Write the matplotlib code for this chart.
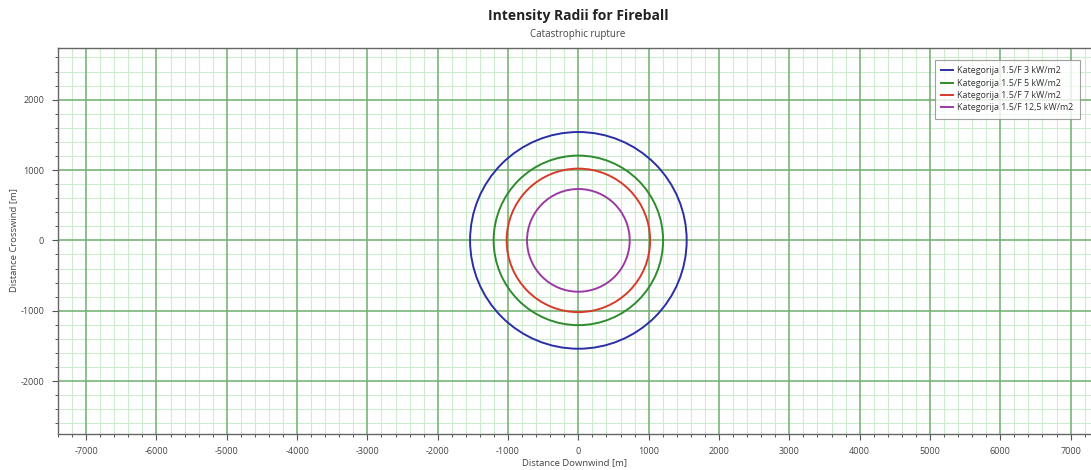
import matplotlib
matplotlib.use("Agg")
import matplotlib.pyplot as plt
from matplotlib.patches import Circle
from matplotlib.lines import Line2D
from matplotlib.ticker import MultipleLocator

# Data
series_labels = [
    "Kategorija 1.5/F 3 kW/m2",
    "Kategorija 1.5/F 5 kW/m2",
    "Kategorija 1.5/F 7 kW/m2",
    "Kategorija 1.5/F 12,5 kW/m2",
]
radii_m = [1540, 1205, 1020, 730]
colors = ["#2b2fa6", "#2e8b2e", "#d83a2a", "#9b3aa3"]
x_ticks = [-7000, -6000, -5000, -4000, -3000, -2000, -1000, 0, 1000, 2000, 3000, 4000, 5000, 6000, 7000]
y_ticks = [-2000, -1000, 0, 1000, 2000]

plt.rcParams['font.family'] = ['Open Sans', 'DejaVu Sans']

fig = plt.figure(figsize=(10.91, 4.70), dpi=100)
ax = fig.add_axes([58/1091, 1 - 433.5/470, 1 - 58/1091, (433.5 - 48.3)/470])

ax.set_xlim(-7400, 7290)
ax.set_ylim(-2745, 2730)

ax.xaxis.set_minor_locator(MultipleLocator(200))
ax.yaxis.set_minor_locator(MultipleLocator(200))
ax.set_xticks(x_ticks)
ax.set_yticks(y_ticks)
ax.set_xticklabels([str(v) for v in x_ticks])
ax.set_yticklabels([str(v) for v in y_ticks])

ax.grid(which='minor', color='#cdeccd', linewidth=0.8, zorder=0.5)
for xv in x_ticks:
    ax.axvline(xv, color='#6fae6f', linewidth=1.1, zorder=1)
for yv in y_ticks:
    ax.axhline(yv, color='#6fae6f', linewidth=1.1, zorder=1)
ax.set_axisbelow(True)

ax.tick_params(axis='both', which='major', length=4, width=0.8, color='#555555',
               labelsize=6.5, labelcolor='#444444', pad=6)
ax.tick_params(axis='both', which='minor', length=2.5, width=0.7, color='#555555')

for side in ['left', 'bottom', 'top']:
    ax.spines[side].set_color('#666666')
    ax.spines[side].set_linewidth(1.0)
ax.spines['right'].set_visible(False)

handles = []
for r, c, lab in zip(radii_m, colors, series_labels):
    ax.add_patch(Circle((0, 0), r, fill=False, edgecolor=c, linewidth=1.4, zorder=3))
    handles.append(Line2D([], [], color=c, linewidth=1.4, label=lab))

leg = ax.legend(handles=handles, loc='upper right', bbox_to_anchor=(0.994, 0.982),
                fontsize=6.4, frameon=True, fancybox=False, handlelength=1.3,
                handletextpad=0.5, labelspacing=0.38, borderpad=0.75)
leg.get_frame().set_edgecolor('#888888')
leg.get_frame().set_linewidth(0.8)
leg.set_zorder(5)
for t in leg.get_texts():
    t.set_color('#333333')

ax.set_xlabel("Distance Downwind [m]", fontsize=6.8, color='#444444', labelpad=1)
ax.set_ylabel("Distance Crosswind [m]", fontsize=6.8, color='#444444')
ax.yaxis.set_label_coords(18/1091 - 58/1091, 0.5, transform=None)
ax.yaxis.label.set_transform(fig.transFigure)
ax.yaxis.label.set_position((18/1091, 1 - 240/470))

fig.text(578/1091, 1 - 16/470, "Intensity Radii for Fireball", ha='center', va='center',
         fontsize=10, fontweight='bold', color='#222222')
fig.text(578/1091, 1 - 34/470, "Catastrophic rupture", ha='center', va='center',
         fontsize=7, color='#444444')

fig.savefig("out.png", dpi=100)
